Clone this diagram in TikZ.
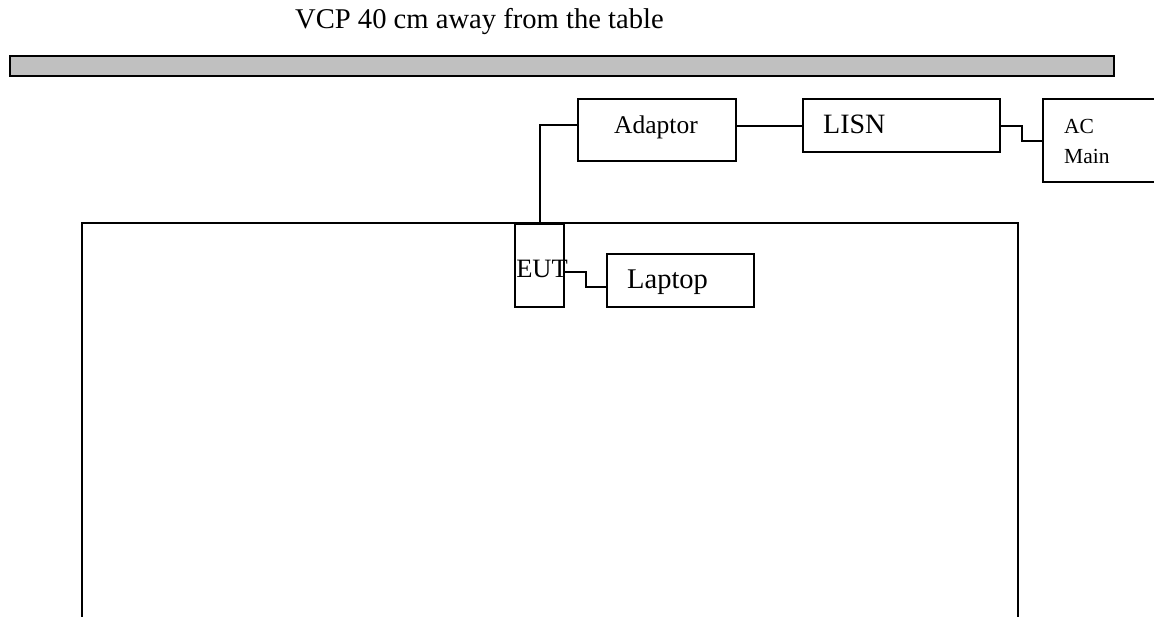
\documentclass[tikz,border=0pt]{standalone}
\usepackage{fontspec}
\setmainfont{Liberation Serif}
\usetikzlibrary{calc}
\definecolor{panelgray}{RGB}{192,192,192}
\tikzset{
  wire/.style={line width=2pt, line join=miter},
  boxnode/.style={draw, line width=2pt, inner sep=0pt, anchor=north west},
  lbl/.style={inner sep=0pt, anchor=base},
  lbll/.style={inner sep=0pt, anchor=base west},
}
\newcommand{\fs}[1]{\fontsize{#1}{#1}\selectfont}
\begin{document}
\begin{tikzpicture}[x=1pt, y=-1pt]
  \clip (0,0) rectangle (1154,616);
  \fill[white] (0,0) rectangle (1154,616);

  % heading and the vertical conducting plane
  \node[lbll, font=\fs{28.6}] (title) at (295,28) {VCP 40 cm away from the table};
  \draw[line width=2pt, fill=panelgray] (10,56) rectangle (1114,76);

  % the table, open towards the bottom
  \draw[wire] (82,640) -- (82,223) -- (1018,223) -- (1018,640);

  % equipment boxes
  \node[boxnode, minimum width=158pt, minimum height=62pt] (adaptor) at (577,98) {};
  \node[boxnode, minimum width=197pt, minimum height=53pt] (lisn) at (802,98) {};
  \node[boxnode, minimum width=130pt, minimum height=83pt] (acmain) at (1042,98) {};
  \node[boxnode, minimum width=49pt, minimum height=83pt] (eut) at (514,223) {};
  \node[boxnode, minimum width=147pt, minimum height=53pt] (laptop) at (606,253) {};

  % box labels
  \node[lbl, font=\fs{25.5}] (adaptortext) at (656,133) {Adaptor};
  \node[lbll, font=\fs{28}] (lisntext) at (823,133) {LISN};
  \node[lbll, font=\fs{21.5}] (actext) at (1064,133) {AC};
  \node[lbll, font=\fs{21.5}] (maintext) at (1064,163) {Main};
  \node[lbl, font=\fs{26.5}] (euttext) at (542,277) {EUT};
  \node[lbll, font=\fs{28.5}] (laptoptext) at (627,288) {Laptop};

  % cables
  \draw[wire] ([yshift=5pt]adaptor.west) -| (eut.north);
  \draw[wire] (adaptor.east |- lisn.west) -- (lisn.west);
  \draw[wire] (lisn.east) -- ++(21,0) |- (acmain.west);
  \draw[wire] ([yshift=-6.5pt]eut.east) -- ++(21,0) |- ([yshift=-6.5pt]laptop.west);
\end{tikzpicture}
\end{document}
